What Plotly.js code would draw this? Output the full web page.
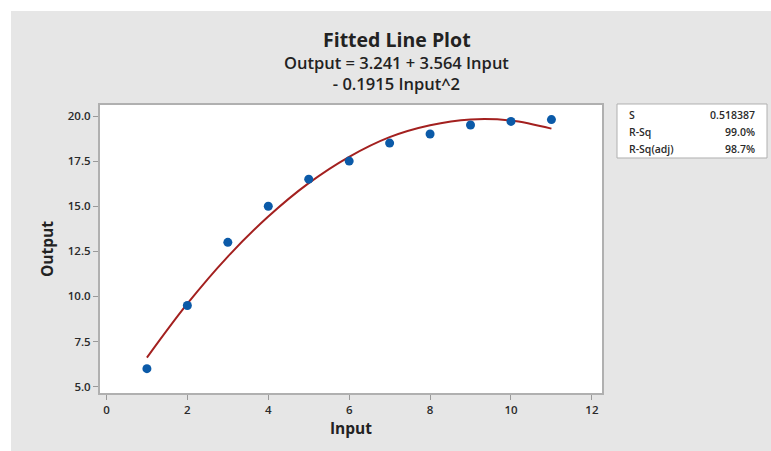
<!DOCTYPE html>
<html>
<head>
<meta charset="utf-8">
<script src="https://cdn.plot.ly/plotly-3.0.1.min.js"></script>
<style>
html,body{margin:0;padding:0;background:#ffffff;width:771px;height:451px;overflow:hidden;}
#chart{position:absolute;left:11px;top:11px;width:760px;height:440px;}
</style>
</head>
<body>
<div id="chart"></div>
<script>
// Observed data
var inputValues = [1, 2, 3, 4, 5, 6, 7, 8, 9, 10, 11];
var outputValues = [6.0, 9.5, 13.0, 15.0, 16.5, 17.5, 18.5, 19.0, 19.5, 19.7, 19.8];
// Fitted line values
var fitInput = [1, 2, 3, 4, 5, 6, 7, 8, 9, 10, 11];
var fitOutput = [6.61, 9.60, 12.21, 14.43, 16.28, 17.74, 18.83, 19.49, 19.81, 19.75, 19.30];
// Tick labels
var xTicks = [0, 2, 4, 6, 8, 10, 12];
var yTicks = [5.0, 7.5, 10.0, 12.5, 15.0, 17.5, 20.0];
// Summary statistics
var statNames = ["S", "R-Sq", "R-Sq(adj)"];
var statValues = ["0.518387", "99.0%", "98.7%"];

var FONT = "Open Sans, Noto Sans, sans-serif";
var TXT = "#2a2a2a";

var traces = [
  {
    x: fitInput, y: fitOutput, type: "scatter", mode: "lines",
    line: {color: "#a3201f", width: 2, shape: "spline"},
    hoverinfo: "skip", showlegend: false
  },
  {
    x: inputValues, y: outputValues, type: "scatter", mode: "markers",
    marker: {color: "#0b5aa8", size: 9, symbol: "circle"},
    showlegend: false
  }
];

var rowY = [0.9653, 0.9063, 0.8472];
var annotations = [
  {text: "Fitted Line Plot", xref: "paper", yref: "paper", x: 0.5916, y: 1.2257,
   xanchor: "center", yanchor: "middle", showarrow: false,
   font: {family: FONT, size: 19.5, color: "#222", weight: 700}},
  {text: "Output = 3.241 + 3.564 Input<br>- 0.1915 Input^2", xref: "paper", yref: "paper", x: 0.5916, y: 1.1111,
   xanchor: "center", yanchor: "middle", align: "center", showarrow: false,
   font: {family: FONT, size: 16.5, color: "#222", weight: 600}}
];
for (var i = 0; i < statNames.length; i++) {
  annotations.push({text: statNames[i], xref: "paper", yref: "paper", x: 1.0498, y: rowY[i],
    xanchor: "left", yanchor: "middle", showarrow: false,
    font: {family: FONT, size: 10.5, color: TXT, weight: 600}});
  annotations.push({text: statValues[i], xref: "paper", yref: "paper", x: 1.3088, y: rowY[i],
    xanchor: "right", yanchor: "middle", showarrow: false,
    font: {family: FONT, size: 10.5, color: TXT, weight: 600}});
}

var layout = {
  width: 760, height: 440,
  paper_bgcolor: "#e6e6e6", plot_bgcolor: "#ffffff",
  margin: {l: 89, r: 169, t: 94, b: 58, pad: 0},
  font: {family: FONT, color: TXT},
  xaxis: {
    range: [-0.16, 12.25], tickvals: xTicks, ticktext: xTicks.map(String),
    ticks: "outside", ticklen: 5, tickcolor: "#9a9a9a", tickwidth: 1,
    showline: true, linecolor: "#b0b0b0", linewidth: 2, mirror: true,
    showgrid: false, zeroline: false,
    tickfont: {family: FONT, size: 11.5, color: TXT, weight: 600},
    title: {text: "Input", standoff: 6, font: {family: FONT, size: 15.5, color: "#222", weight: 700}}
  },
  yaxis: {
    range: [4.65, 20.61], tickvals: yTicks, ticktext: yTicks.map(function(v){return v.toFixed(1);}),
    ticks: "outside", ticklen: 5, tickcolor: "#9a9a9a", tickwidth: 1,
    showline: true, linecolor: "#b0b0b0", linewidth: 2, mirror: true,
    showgrid: false, zeroline: false,
    tickfont: {family: FONT, size: 11.5, color: TXT, weight: 600},
    title: {text: "Output", standoff: 10, font: {family: FONT, size: 15.5, color: "#222", weight: 700}}
  },
  shapes: [
    {type: "rect", xref: "paper", yref: "paper", x0: 1.0299, x1: 1.3287, y0: 0.816, y1: 1.0035,
     fillcolor: "#ffffff", line: {color: "#b0b0b0", width: 1}, layer: "below"}
  ],
  annotations: annotations,
  showlegend: false
};

Plotly.newPlot("chart", traces, layout, {displayModeBar: false, staticPlot: true});
</script>
</body>
</html>
